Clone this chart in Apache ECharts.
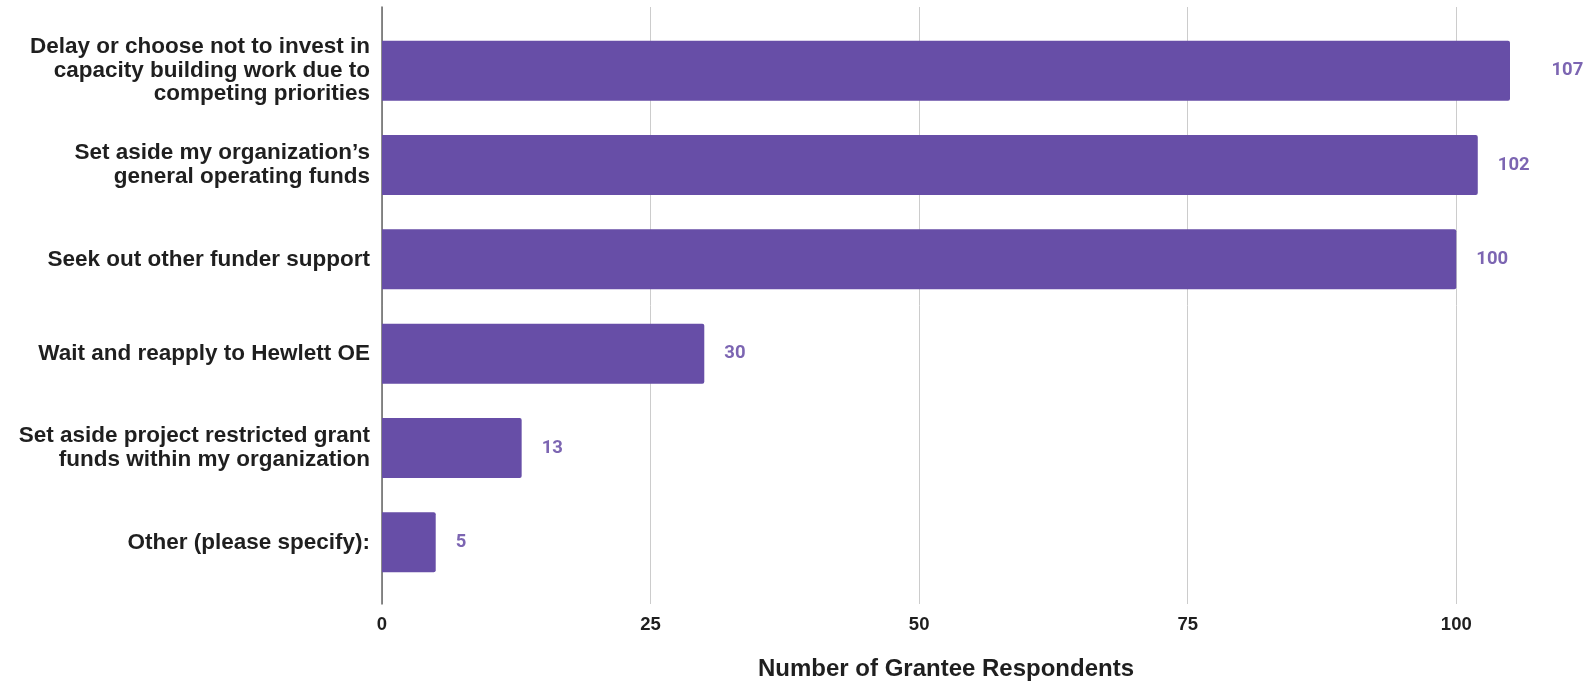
<!DOCTYPE html>
<html>
<head>
<meta charset="utf-8">
<script src="https://cdn.jsdelivr.net/npm/echarts@6/dist/echarts.min.js"></script>
<style>
html,body{margin:0;padding:0;background:#fff;}
#chart{width:1591px;height:686px;}
</style>
</head>
<body>
<div id="chart"></div>
<script>
const categories = [
  "Delay or choose not to invest in\ncapacity building work due to\ncompeting priorities",
  "Set aside my organization\u2019s\ngeneral operating funds",
  "Seek out other funder support",
  "Wait and reapply to Hewlett OE",
  "Set aside project restricted grant\nfunds within my organization",
  "Other (please specify):"
];
const respondents = [107, 102, 100, 30, 13, 5];
const xTicks = [0, 25, 50, 75, 100];
const xAxisTitle = "Number of Grantee Respondents";

const purple = "#674ea7";
const valueColor = "#5b3f9f";
const txt = "#1f1f1f";
const labelFont = "'Liberation Sans', Arial, sans-serif";

const chart = echarts.init(document.getElementById('chart'), null, {renderer: 'canvas'});
const option = {
  animation: false,
  backgroundColor: '#ffffff',
  grid: [
    {left: 382, right: 81, top: 7, bottom: 80},
    {left: 382, right: 81, top: 23.5, bottom: 96.5}
  ],
  xAxis: [
    {
      gridIndex: 0, type: 'value', min: 0, max: 105, interval: 25,
      axisLine: {show: false}, axisTick: {show: false},
      splitLine: {show: true, showMaxLine: false, lineStyle: {color: '#cccccc', width: 1}},
      axisLabel: {
        color: txt, fontFamily: labelFont, fontWeight: 'bold', fontSize: 18.5, margin: 11,
        showMaxLabel: false,
        formatter: v => (xTicks.indexOf(v) >= 0 ? String(v) : '')
      },
      name: xAxisTitle, nameLocation: 'middle', nameGap: 53,
      nameTextStyle: {color: txt, fontFamily: labelFont, fontWeight: 'bold', fontSize: 24}
    },
    {
      gridIndex: 1, type: 'value', min: 0, max: 105, interval: 25, show: false
    }
  ],
  yAxis: [
    {
      gridIndex: 0, type: 'value', min: 0, max: 1,
      axisLine: {show: true, lineStyle: {color: '#666666', width: 1.5}},
      axisTick: {show: false}, axisLabel: {show: false}, splitLine: {show: false}
    },
    {
      gridIndex: 1, type: 'category', data: categories, inverse: true,
      axisLine: {show: false}, axisTick: {show: false},
      axisLabel: {
        color: txt, fontFamily: labelFont, fontWeight: 'bold', fontSize: 22.5,
        lineHeight: 23.5, margin: 12, align: 'right'
      }
    }
  ],
  series: [
    {
      type: 'bar', xAxisIndex: 1, yAxisIndex: 1, clip: true,
      data: respondents, barWidth: 60,
      itemStyle: {color: purple, borderRadius: [0, 2, 2, 0]},
      z: 2
    },
    {
      type: 'scatter', xAxisIndex: 1, yAxisIndex: 1, clip: false,
      symbolSize: 0, silent: true,
      data: respondents.map((v, i) => [v, categories[i]]),
      label: {
        show: true, position: 'right', distance: 20,
        color: valueColor, fontFamily: "Roboto, sans-serif", fontWeight: 'bold', fontSize: 18.5,
        formatter: p => String(p.value[0])
      },
      z: 3
    }
  ]
};
chart.setOption(option);
</script>
</body>
</html>
